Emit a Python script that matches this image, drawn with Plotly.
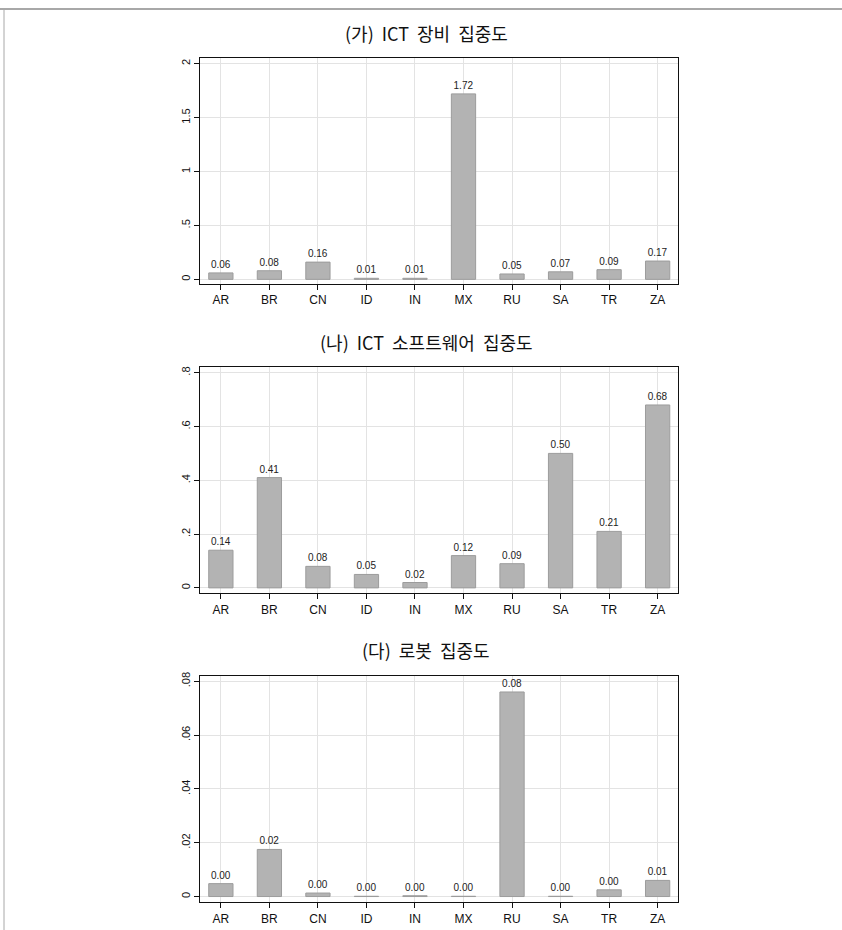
import plotly.graph_objects as go

# Country codes shared by all three panels
countries = ["AR", "BR", "CN", "ID", "IN", "MX", "RU", "SA", "TR", "ZA"]

# (가) ICT equipment concentration
ict_equipment = [0.06, 0.08, 0.16, 0.01, 0.01, 1.72, 0.05, 0.07, 0.09, 0.17]
# (나) ICT software concentration
ict_software = [0.14, 0.41, 0.08, 0.05, 0.02, 0.12, 0.09, 0.50, 0.21, 0.68]
# (다) robot concentration
robots = [0.0048, 0.0175, 0.0013, 0.0001, 0.0003, 0.0001, 0.076, 0.0001, 0.0025, 0.006]

titles = ["(가)  ICT  장비  집중도", "(나)  ICT  소프트웨어  집중도", "(다)  로봇  집중도"]

tick_vals_1 = [0, 0.5, 1, 1.5, 2]
tick_text_1 = ["0", ".5", "1", "1.5", "2"]
tick_vals_2 = [0, 0.2, 0.4, 0.6, 0.8]
tick_text_2 = ["0", ".2", ".4", ".6", ".8"]
tick_vals_3 = [0, 0.02, 0.04, 0.06, 0.08]
tick_text_3 = ["0", ".02", ".04", ".06", ".08"]

W, H = 842, 930
PLOT_LEFT, PLOT_RIGHT = 200, 678
# (top, bottom) pixel bounds of each panel's plotting area
panel_px = [(54, 281), (365, 592), (675, 902)]
title_px = [29, 339, 649]
TITLE_X = 426

series = [ict_equipment, ict_software, robots]
ticks = [(tick_vals_1, tick_text_1), (tick_vals_2, tick_text_2), (tick_vals_3, tick_text_3)]
y_ranges = [[-0.041, 2.055], [-0.0207, 0.8196], [-0.00207, 0.0819]]

BAR_FILL = "#b3b3b3"
BAR_EDGE = "#9c9c9c"
GRID = "#e3e3e3"
LABEL_FONT = "Liberation Sans, Arial, sans-serif"
KR_FONT = "Noto Sans CJK KR, sans-serif"

fig = go.Figure()

for i, vals in enumerate(series):
    n = "" if i == 0 else str(i + 1)
    fig.add_trace(go.Bar(
        x=countries, y=vals, width=0.5,
        marker=dict(color=BAR_FILL, line=dict(color=BAR_EDGE, width=1)),
        texttemplate="%{y:.2f}", textposition="outside", cliponaxis=False,
        textfont=dict(family=LABEL_FONT, size=10, color="#222"),
        xaxis="x" + n, yaxis="y" + n, showlegend=False,
    ))
    top, bottom = panel_px[i]
    ydom = [1 - bottom / H, 1 - top / H]
    xdom = [PLOT_LEFT / W, PLOT_RIGHT / W]
    tv, tt = ticks[i]
    fig.update_layout(**{
        "xaxis" + n: dict(
            domain=xdom, anchor="y" + n, type="category",
            range=[-0.43, 9.42], showgrid=True, gridcolor=GRID, gridwidth=1,
            showline=True, linecolor="#111", linewidth=1, mirror=True,
            ticks="outside", ticklen=5, tickcolor="#111",
            tickfont=dict(family=LABEL_FONT, size=12, color="#111"),
            zeroline=False,
        ),
        "yaxis" + n: dict(
            domain=ydom, anchor="x" + n, range=y_ranges[i],
            tickvals=tv, ticktext=tt, tickangle=-90,
            showgrid=True, gridcolor=GRID, gridwidth=1,
            showline=True, linecolor="#111", linewidth=1, mirror=True,
            ticks="outside", ticklen=5, tickcolor="#111",
            tickfont=dict(family=LABEL_FONT, size=11, color="#111"),
            zeroline=False,
        ),
    })
    fig.add_annotation(
        text=titles[i].replace("  ", "\u00a0 "), x=TITLE_X / W, y=1 - title_px[i] / H,
        xref="paper", yref="paper", xanchor="center", yanchor="middle",
        showarrow=False, font=dict(family=KR_FONT, size=18, color="#111"),
    )

# Outer frame: gray rule across the top and down the left side
fig.add_shape(type="line", xref="paper", yref="paper",
              x0=0, x1=1, y0=1 - 5 / H, y1=1 - 5 / H,
              line=dict(color="#a8a8a8", width=2))
fig.add_shape(type="line", xref="paper", yref="paper",
              x0=4 / W, x1=4 / W, y0=0, y1=1 - 5 / H,
              line=dict(color="#a8a8a8", width=1))

fig.update_layout(
    width=W, height=H,
    margin=dict(l=0, r=0, t=0, b=0),
    paper_bgcolor="white", plot_bgcolor="white",
    bargap=0.5,
)

fig.write_html("out.html")
